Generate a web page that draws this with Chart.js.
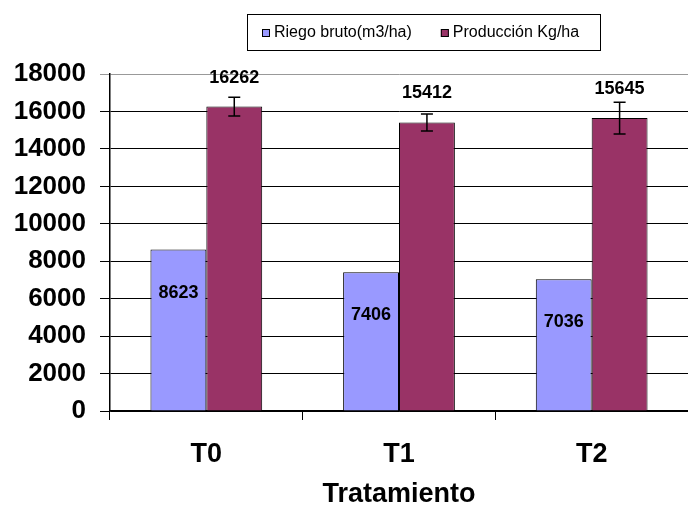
<!DOCTYPE html>
<html>
<head>
<meta charset="utf-8">
<script src="https://cdn.jsdelivr.net/npm/chart.js@4/dist/chart.umd.min.js"></script>
<style>
  html, body { margin: 0; padding: 0; background: #fff; }
  #wrap { width: 688px; height: 509px; }
</style>
</head>
<body>
<div id="wrap"><canvas id="chart" width="688" height="509"></canvas></div>
<script>
const categories = ['T0', 'T1', 'T2']
const riego = [8623, 7406, 7036]
const produccion = [16262, 15412, 15645]
const produccionErr = [500, 450, 850]
const yTicks = [0, 2000, 4000, 6000, 8000, 10000, 12000, 14000, 16000, 18000]

const FONT = '"Liberation Sans", Arial, sans-serif'

// legend with a frame, drawn by hand
const boxLegend = {
    id: 'boxLegend',
    afterDraw(chart) {
        const ctx = chart.ctx
        ctx.save()
        ctx.strokeStyle = '#000'
        ctx.lineWidth = 1
        ctx.strokeRect(247.5, 14.5, 353, 36)
        ctx.font = '16px ' + FONT
        ctx.textBaseline = 'middle'
        let x = 262
        const y = 33
        chart.data.datasets.forEach(ds => {
            ctx.fillStyle = ds.backgroundColor
            ctx.fillRect(x, y - 4, 8, 8)
            ctx.strokeStyle = '#000'
            ctx.strokeRect(x + 0.5, y - 3.5, 7, 7)
            ctx.fillStyle = '#000'
            ctx.fillText(ds.label, x + 12, y)
            x += 12 + ctx.measureText(ds.label).width + 29
        })
        ctx.restore()
    }
}

// error bars and value labels
const barExtras = {
    id: 'barExtras',
    afterDatasetsDraw(chart) {
        const ctx = chart.ctx
        const yScale = chart.scales.y
        ctx.save()
        const metaP = chart.getDatasetMeta(1)
        metaP.data.forEach((bar, i) => {
            const top = yScale.getPixelForValue(produccion[i] + produccionErr[i])
            const bot = yScale.getPixelForValue(produccion[i] - produccionErr[i])
            ctx.strokeStyle = '#000'
            ctx.lineWidth = 1.5
            ctx.beginPath()
            ctx.moveTo(bar.x, top); ctx.lineTo(bar.x, bot)
            ctx.moveTo(bar.x - 6, top); ctx.lineTo(bar.x + 6, top)
            ctx.moveTo(bar.x - 6, bot); ctx.lineTo(bar.x + 6, bot)
            ctx.stroke()
            ctx.fillStyle = '#000'
            ctx.font = 'bold 18px ' + FONT
            ctx.textAlign = 'center'
            ctx.textBaseline = 'middle'
            ctx.fillText(produccion[i], bar.x, bar.y - 29)
        })
        const metaR = chart.getDatasetMeta(0)
        metaR.data.forEach((bar, i) => {
            ctx.fillStyle = '#000'
            ctx.font = 'bold 18px ' + FONT
            ctx.textAlign = 'center'
            ctx.textBaseline = 'middle'
            ctx.fillText(riego[i], bar.x, bar.y + 43)
        })
        ctx.restore()
    }
}

new Chart(document.getElementById('chart'), {
    type: 'bar',
    data: {
        labels: categories,
        datasets: [
            {
                label: 'Riego bruto(m3/ha)',
                data: riego,
                backgroundColor: '#9999FF',
                borderColor: '#000',
                borderWidth: 1,
                borderSkipped: 'bottom'
            },
            {
                label: 'Producción Kg/ha',
                data: produccion,
                backgroundColor: '#993366',
                borderColor: '#000',
                borderWidth: 1,
                borderSkipped: 'bottom'
            }
        ]
    },
    options: {
        responsive: false,
        animation: false,
        events: [],
        layout: { padding: { top: 74, left: 0, right: 0, bottom: 0 } },
        categoryPercentage: 0.58,
        barPercentage: 1.0,
        plugins: {
            legend: { display: false },
            tooltip: { enabled: false }
        },
        scales: {
            x: {
                offset: true,
                grid: {
                    offset: true,
                    drawOnChartArea: false,
                    drawTicks: true,
                    tickLength: 9,
                    color: '#000'
                },
                border: { color: '#000', width: 1.5 },
                ticks: {
                    color: '#000',
                    padding: 18,
                    font: { family: FONT, size: 27, weight: 'bold' }
                },
                title: {
                    display: true,
                    text: 'Tratamiento',
                    color: '#000',
                    padding: { top: 0, bottom: 1 },
                    font: { family: FONT, size: 27, weight: 'bold', lineHeight: 1 }
                },
                afterFit(scale) { scale.height = 98 }
            },
            y: {
                min: 0,
                max: 18000,
                afterBuildTicks(scale) { scale.ticks = yTicks.map(v => ({ value: v })) },
                grid: {
                    color: ctx => ctx.tick && ctx.tick.value === 18000 ? '#999' : '#000',
                    lineWidth: 1,
                    tickLength: 10
                },
                border: { color: '#000', width: 1.5 },
                ticks: {
                    color: '#000',
                    padding: 14,
                    callback: v => String(v),
                    font: { family: FONT, size: 26, weight: 'bold' }
                },
                afterFit(scale) { scale.width = 110 }
            }
        }
    },
    plugins: [boxLegend, barExtras]
})
</script>
</body>
</html>
